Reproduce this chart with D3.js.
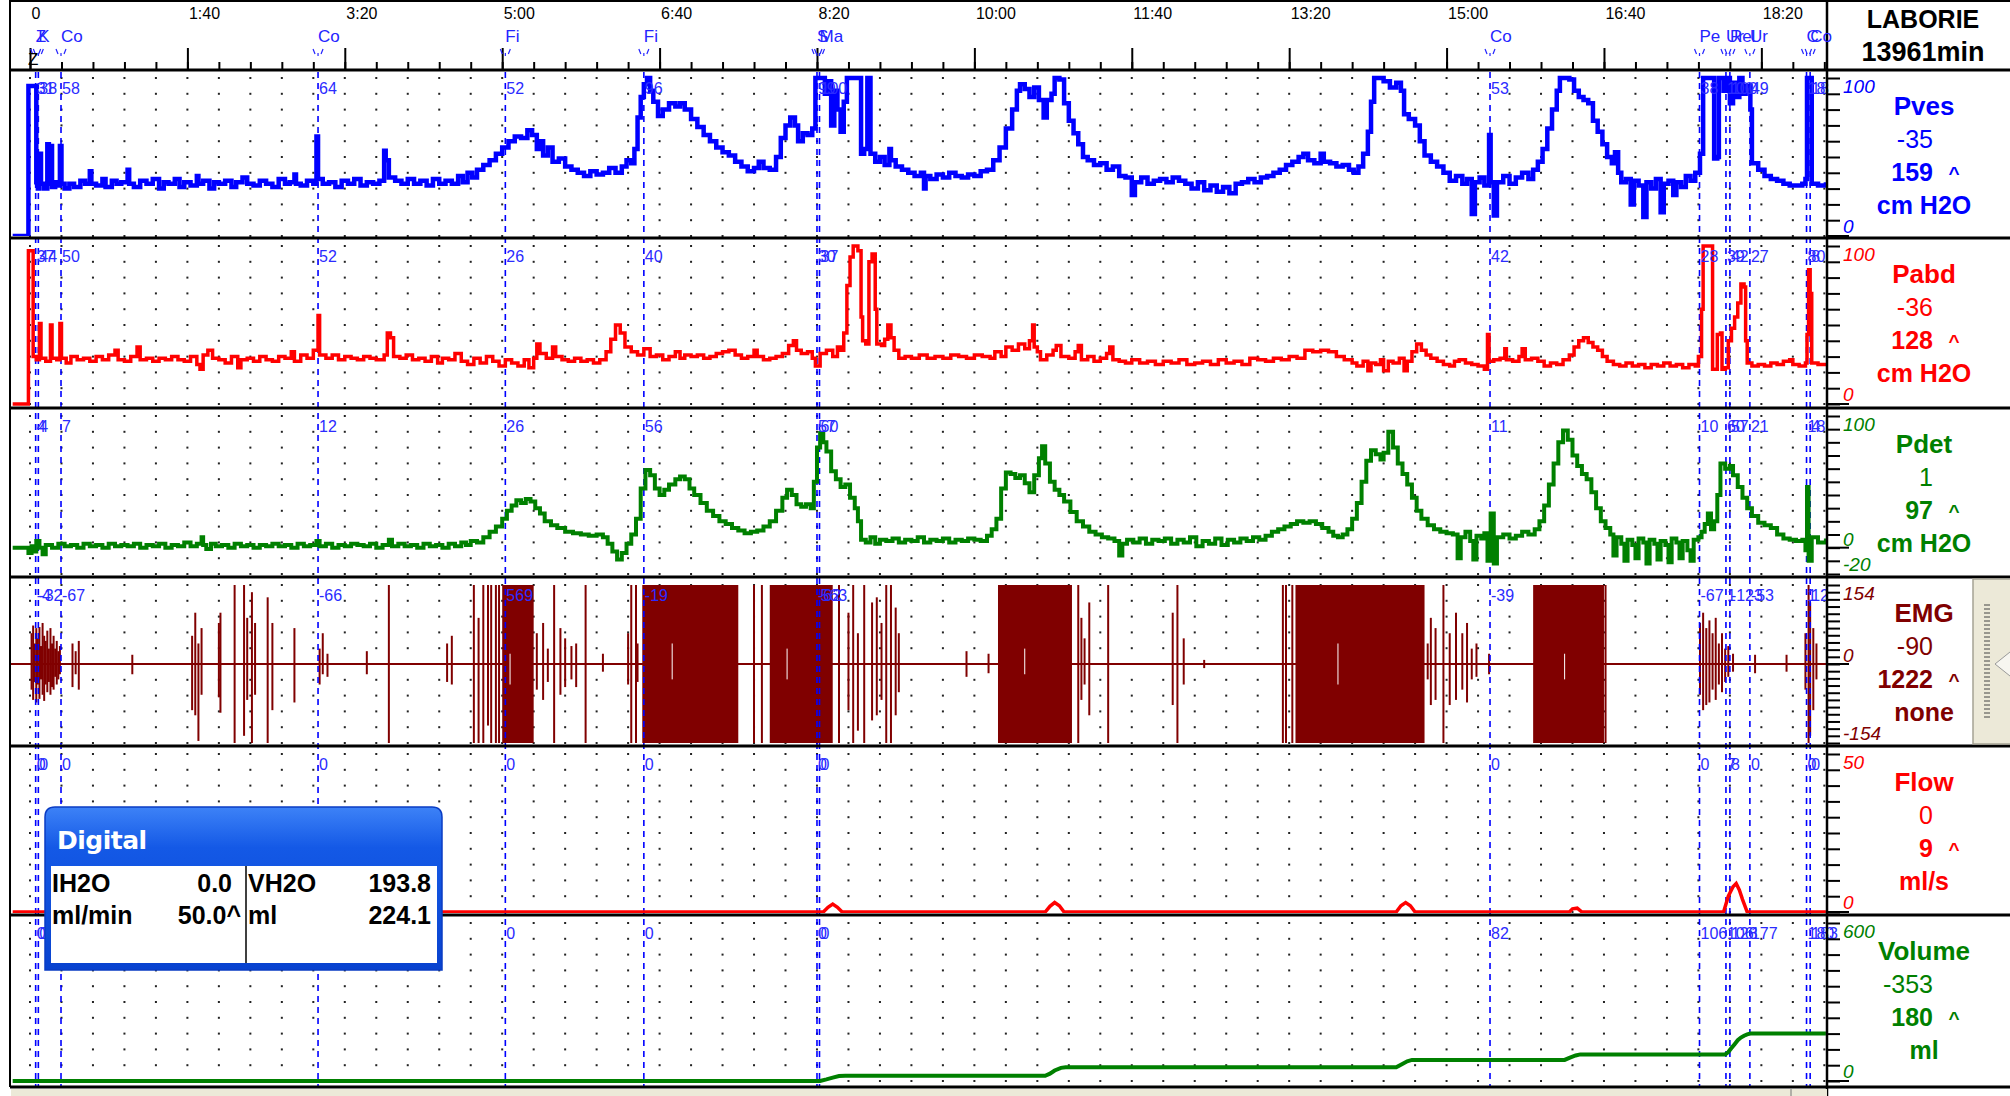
<!DOCTYPE html>
<html>
<head>
<meta charset="utf-8">
<script src="https://cdn.jsdelivr.net/npm/d3@7"></script>
<style>
  body { margin: 0; background: #ffffff; }
  svg { display: block; font-family: "Liberation Sans", Arial, sans-serif; }
</style>
</head>
<body>
<svg id="uro-chart" width="2010" height="1096"></svg>
<script>
// time axis (seconds) and its labels, written as m:ss like the laborie screen
const time_tick_values = [0, 100, 200, 300, 400, 500, 600, 700, 800, 900, 1000, 1100];
const time_tick_labels = ["0", "1:40", "3:20", "5:00", "6:40", "8:20", "10:00", "11:40", "13:20", "15:00", "16:40", "18:20"];

// event markers, their short names and the value of each channel at the marker
const event_times = [3.6, 5.3, 19.7, 183, 302, 390, 500, 501.6, 927.6, 1060.7, 1077.5, 1080, 1092.7, 1128.7, 1131];
const event_names = ["Z", "K", "Co", "Co", "Fi", "Fi", "S", "Ma", "Co", "Pe", "Ur", "Rel", "Ur", "C", "Co"];
const pves_event_values = ["31", "38", "58", "64", "52", "96", "99", "100", "53", "38", "100", "100", "49", "18", "18"];
const pabd_event_values = ["37", "44", "50", "52", "26", "40", "30", "37", "42", "28", "39", "42", "27", "80", "8"];
const pdet_event_values = ["4", "4", "7", "12", "26", "56", "57", "60", "11", "10", "60", "57", "21", "18", "4"];
const emg_event_values = ["-4", "-32", "-67", "-66", "569", "-19", "-62", "563", "-39", "-67", "1", "-123", "-53", "1", "12"];
const flow_event_values = ["0", "0", "0", "0", "0", "0", "0", "0", "0", "0", "7", "8", "0", "0", "0"];
const volume_event_values = ["0", "0", "0", "0", "0", "0", "0", "0", "82", "106", "106", "128", "177", "180", "183"];

// channel info shown in the right column
const channel_names = ["Pves", "Pabd", "Pdet", "EMG", "Flow", "Volume"];
const channel_values = ["-35", "-36", "1", "-90", "0", "-353"];
const channel_max = ["159", "128", "97", "1222", "9", "180"];
const channel_units = ["cm H2O", "cm H2O", "cm H2O", "none", "ml/s", "ml"];
const channel_domains = [[0, 100], [0, 100], [-20, 100], [-154, 154], [0, 50], [0, 600]];
const channel_tick_count = [10, 10, 12, 22, 10, 10];

// pressure traces [seconds, cm H2O]
const pves_data = [[-11,0],[-1,0],[-1,95],[4,95],[4,34],[5,30],[6,52],[7,33],[9,30],[11,58],[12,33],[13,57],[14,31],[16,34],[18,32],[19,57],[20,33],[22,30],[25,33],[28,31],[32,35],[35,33],[38,41],[39,33],[42,32],[46,36],[48,31],[52,35],[55,33],[58,34],[62,42],[63,33],[66,31],[70,35],[74,33],[78,36],[82,30],[85,34],[88,33],[92,36],[95,31],[98,34],[102,32],[106,38],[107,33],[110,35],[114,30],[117,34],[120,33],[124,35],[128,31],[131,34],[135,37],[138,33],[142,32],[146,35],[150,33],[154,31],[158,36],[162,33],[165,34],[168,39],[169,33],[172,32],[176,35],[180,33],[182,63],[183,36],[186,33],[190,34],[194,31],[198,35],[202,33],[206,36],[210,32],[214,34],[218,33],[222,35],[225,54],[226,48],[228,37],[232,35],[236,33],[240,36],[244,33],[248,35],[252,32],[256,36],[260,33],[264,35],[268,33],[272,38],[275,34],[278,40],[281,37],[284,42],[288,45],[292,48],[296,52],[300,56],[304,60],[308,63],[312,62],[316,67],[319,64],[322,55],[324,60],[326,51],[329,56],[332,47],[336,49],[340,44],[344,42],[348,40],[352,38],[356,41],[360,39],[364,40],[368,43],[372,40],[376,44],[379,48],[382,46],[384,55],[386,75],[388,88],[390,96],[392,100],[394,92],[396,85],[399,76],[402,80],[406,84],[410,82],[413,84],[416,80],[420,74],[424,69],[428,64],[432,60],[436,56],[440,53],[444,51],[448,47],[452,44],[456,41],[460,43],[463,47],[466,43],[470,42],[474,50],[477,62],[480,70],[483,75],[486,70],[488,60],[491,65],[494,64],[497,68],[499,100],[503,100],[505,90],[507,98],[509,70],[511,92],[513,80],[515,66],[517,85],[519,100],[527,100],[528,52],[530,55],[532,100],[534,52],[537,47],[540,50],[543,45],[546,55],[547,48],[550,44],[554,42],[558,40],[562,38],[566,40],[568,30],[569,38],[572,36],[576,39],[580,37],[584,40],[588,38],[592,37],[596,39],[600,38],[604,41],[608,42],[612,48],[616,56],[620,68],[624,80],[627,92],[629,96],[632,93],[635,88],[638,94],[641,86],[644,75],[646,86],[649,90],[651,100],[654,99],[657,84],[660,73],[663,65],[666,58],[669,50],[672,48],[676,45],[680,46],[684,42],[688,44],[692,38],[696,37],[700,26],[702,34],[706,37],[710,33],[714,35],[718,36],[722,34],[726,37],[730,35],[734,33],[738,30],[742,34],[746,29],[750,32],[754,28],[758,31],[762,27],[766,33],[770,34],[774,36],[778,34],[782,37],[786,38],[790,40],[794,42],[798,45],[802,47],[806,50],[809,52],[812,48],[816,46],[820,52],[822,47],[826,46],[830,44],[834,45],[838,42],[841,40],[844,44],[847,52],[850,66],[852,85],[854,100],[860,98],[864,94],[868,97],[871,92],[873,77],[876,74],[880,70],[883,60],[886,51],[890,47],[894,44],[898,40],[902,35],[906,38],[910,33],[913,36],[916,14],[918,34],[921,37],[924,32],[927,64],[928,34],[930,13],[932,34],[936,38],[940,33],[944,37],[948,40],[952,36],[955,42],[958,47],[961,55],[964,68],[967,80],[970,92],[972,100],[978,99],[981,92],[984,88],[987,86],[990,84],[993,73],[996,66],[999,58],[1002,50],[1005,46],[1007,53],[1009,40],[1011,34],[1014,36],[1017,20],[1019,35],[1022,32],[1025,12],[1027,34],[1030,30],[1033,36],[1036,15],[1038,33],[1041,35],[1044,26],[1046,34],[1049,31],[1052,38],[1055,35],[1058,40],[1061,52],[1063,100],[1068,100],[1070,49],[1072,50],[1073,100],[1076,92],[1078,100],[1080,84],[1082,97],[1084,88],[1086,100],[1088,90],[1090,95],[1093,80],[1094,46],[1098,42],[1102,38],[1106,36],[1110,35],[1114,33],[1118,32],[1122,32],[1126,33],[1128,36],[1129,100],[1131,100],[1132,33],[1136,32],[1141,34]];

const pabd_data = [[-11,0],[-1,0],[-1,97],[2,97],[2,30],[4,28],[6,51],[7,29],[10,27],[13,50],[14,29],[17,28],[19,51],[20,29],[23,26],[26,30],[30,28],[34,29],[38,27],[42,30],[46,28],[50,31],[54,34],[56,28],[60,27],[64,30],[68,36],[70,28],[74,29],[78,27],[82,29],[86,28],[90,30],[94,28],[98,27],[102,30],[106,25],[108,22],[110,31],[113,34],[116,29],[120,28],[124,26],[128,30],[132,23],[134,28],[138,29],[142,27],[146,30],[150,28],[154,27],[158,30],[162,29],[166,33],[168,27],[172,31],[176,29],[180,34],[183,56],[184,31],[188,29],[192,31],[196,28],[200,30],[204,29],[208,28],[212,30],[216,29],[220,28],[225,31],[227,45],[229,42],[231,30],[235,29],[239,31],[243,28],[247,29],[251,27],[255,30],[259,26],[262,29],[266,28],[270,32],[274,27],[278,25],[282,29],[286,26],[290,30],[294,27],[298,24],[302,28],[306,26],[310,24],[314,28],[317,23],[320,29],[322,38],[324,32],[328,29],[332,36],[334,30],[338,28],[342,27],[346,29],[350,27],[354,28],[358,26],[362,28],[366,33],[369,41],[372,50],[375,45],[378,36],[382,33],[386,31],[390,35],[394,30],[398,31],[402,28],[406,30],[410,33],[413,29],[416,31],[420,30],[424,31],[428,29],[432,30],[436,32],[440,33],[444,34],[448,31],[452,29],[456,30],[460,34],[462,30],[466,28],[470,29],[474,30],[478,32],[482,37],[485,40],[487,34],[490,32],[494,33],[497,29],[499,24],[502,32],[506,34],[510,30],[513,36],[515,34],[517,45],[519,75],[521,93],[523,100],[526,97],[528,55],[529,40],[531,38],[533,90],[535,95],[537,60],[538,38],[541,37],[543,41],[545,50],[547,42],[549,34],[552,29],[556,30],[560,29],[565,31],[570,29],[575,30],[580,29],[585,31],[590,30],[595,29],[600,31],[605,30],[610,29],[613,33],[617,30],[620,36],[624,34],[628,38],[632,35],[635,40],[637,50],[638,36],[640,33],[642,28],[646,31],[650,34],[652,37],[655,30],[660,29],[664,33],[666,37],[668,28],[672,30],[676,27],[680,29],[684,32],[686,36],[688,28],[692,27],[696,26],[700,28],[705,26],[710,27],[715,25],[720,27],[725,26],[730,28],[735,25],[740,26],[745,27],[750,25],[755,28],[760,26],[765,27],[770,25],[775,29],[780,28],[785,27],[790,29],[795,28],[800,30],[805,29],[810,34],[815,33],[820,34],[825,33],[830,30],[835,28],[840,26],[843,24],[847,27],[850,21],[852,26],[855,25],[858,28],[860,21],[863,27],[866,26],[870,29],[873,21],[875,27],[878,33],[881,38],[884,34],[887,31],[890,29],[894,27],[898,25],[902,24],[905,27],[908,28],[912,26],[916,25],[920,24],[924,22],[926,44],[927,27],[930,28],[934,29],[937,35],[938,28],[942,27],[946,30],[948,35],[950,28],[954,29],[958,27],[962,24],[966,26],[970,25],[974,28],[978,31],[981,36],[984,40],[987,42],[990,39],[993,36],[996,34],[999,30],[1002,27],[1006,25],[1010,24],[1014,26],[1018,24],[1022,25],[1026,23],[1030,25],[1034,24],[1038,26],[1042,24],[1046,25],[1050,23],[1054,25],[1058,24],[1060,30],[1062,60],[1063,100],[1068,100],[1069,22],[1071,22],[1072,44],[1074,45],[1075,22],[1077,23],[1079,40],[1081,48],[1083,55],[1085,64],[1087,76],[1089,74],[1090,40],[1091,26],[1094,24],[1098,25],[1102,24],[1106,26],[1110,25],[1114,27],[1118,28],[1120,25],[1124,24],[1128,26],[1129,44],[1130,85],[1131,70],[1132,26],[1136,25],[1141,26]];

const pdet_data = [[-11,0],[-3,0],[-1,-4],[1,1],[3,-3],[4,5],[6,0],[8,-5],[10,2],[14,0],[18,3],[22,1],[26,2],[30,0],[34,3],[38,1],[42,2],[46,0],[50,3],[54,1],[58,2],[62,1],[66,3],[70,0],[74,2],[78,1],[82,3],[86,0],[90,2],[94,1],[98,4],[102,1],[106,3],[109,8],[110,2],[112,-1],[115,3],[118,1],[122,2],[126,0],[130,3],[134,1],[138,2],[142,0],[146,2],[150,1],[154,3],[158,1],[162,2],[166,0],[170,3],[174,1],[178,2],[182,5],[184,1],[188,3],[192,0],[196,2],[200,1],[204,3],[208,2],[212,1],[216,3],[220,0],[224,2],[228,6],[230,1],[234,3],[238,1],[242,2],[246,0],[250,3],[254,1],[258,2],[262,0],[266,3],[270,1],[274,4],[277,2],[280,5],[284,4],[288,8],[292,12],[296,16],[300,22],[303,28],[306,32],[309,36],[312,34],[315,37],[318,35],[321,30],[324,26],[327,20],[331,17],[335,15],[340,12],[345,11],[350,10],[355,9],[360,10],[364,8],[367,3],[370,-3],[373,-9],[376,-4],[379,3],[382,10],[385,22],[388,45],[391,59],[394,55],[397,45],[400,40],[403,44],[406,48],[410,52],[413,54],[416,52],[419,45],[422,40],[426,34],[430,28],[434,24],[438,20],[442,18],[446,15],[450,13],[454,11],[458,12],[462,13],[466,16],[470,20],[474,28],[478,38],[481,44],[484,40],[487,33],[490,31],[493,33],[496,30],[498,50],[500,76],[502,87],[504,80],[506,73],[509,58],[512,52],[515,46],[518,48],[521,38],[524,30],[526,20],[528,6],[531,4],[534,8],[537,3],[540,6],[544,5],[548,7],[552,4],[556,6],[560,5],[564,8],[568,4],[572,6],[576,5],[580,7],[584,4],[588,6],[592,5],[596,7],[600,6],[604,5],[608,9],[611,14],[614,22],[617,45],[620,57],[623,56],[626,53],[629,55],[632,49],[635,42],[638,55],[641,68],[643,77],[645,64],[648,50],[651,44],[654,40],[657,35],[661,27],[665,20],[669,16],[673,12],[677,10],[681,8],[685,7],[689,5],[692,-6],[694,3],[697,6],[701,4],[705,7],[709,3],[713,6],[717,5],[721,7],[725,3],[729,6],[733,4],[737,8],[741,1],[745,5],[749,3],[753,7],[757,2],[761,6],[765,4],[769,7],[773,5],[777,8],[781,6],[785,9],[789,12],[793,14],[797,16],[801,18],[805,20],[809,19],[813,20],[817,18],[821,15],[825,12],[828,9],[831,8],[834,10],[837,14],[840,22],[843,34],[846,50],[849,66],[852,74],[855,71],[858,67],[860,72],[863,88],[866,76],[869,64],[872,56],[875,48],[878,38],[881,28],[884,22],[888,17],[892,14],[896,12],[900,11],[904,10],[907,-8],[909,8],[912,12],[915,5],[917,-9],[919,9],[922,7],[924,11],[926,-10],[928,26],[930,-12],[932,8],[936,10],[940,7],[944,9],[948,12],[952,10],[956,14],[959,20],[962,32],[965,48],[968,64],[971,80],[974,89],[977,82],[980,70],[983,62],[986,56],[989,52],[992,42],[995,30],[998,20],[1001,15],[1004,10],[1006,-6],[1008,8],[1011,3],[1013,-10],[1015,6],[1018,2],[1020,-8],[1022,7],[1025,4],[1027,-12],[1029,6],[1032,3],[1034,-9],[1036,5],[1039,2],[1041,-11],[1043,7],[1046,4],[1048,-8],[1050,5],[1053,-2],[1055,-10],[1057,6],[1060,8],[1062,12],[1064,18],[1066,26],[1068,14],[1070,20],[1072,40],[1074,64],[1077,60],[1080,62],[1082,55],[1085,46],[1088,38],[1091,30],[1094,24],[1098,19],[1102,17],[1106,15],[1110,10],[1114,7],[1118,6],[1122,5],[1126,6],[1128,-2],[1129,46],[1130,-10],[1132,8],[1136,4],[1141,7]];

// emg: dense bursts [start, end], single spikes [t, top, bottom], white gaps inside bursts
const emg_blocks = [[300, 320], [389, 450], [470, 510], [615, 662], [804, 886], [955, 1000]];
const emg_gaps = [[305, 20, -40], [408, 40, -30], [481, 30, -30], [632, 30, -20], [831, 40, -40], [975, 20, -30]];
const emg_spikes = [[1,60,-50],[2,75,-70],[3,40,-35],[4,70,-75],[5,50,-40],[6,72,-68],[7,35,-30],[8,80,-60],[9,55,-72],[10,45,-40],[11,65,-55],[12,30,-35],[13,70,-60],[14,40,-45],[15,55,-50],[16,30,-25],[17,45,-40],[18,25,-30],[19,35,-20],[27,40,-45],[29,25,-20],[31,45,-50],[65,18,-20],[103,55,-90],[105,100,-100],[107,40,-150],[109,70,-60],[120,80,-65],[121,100,-95],[130,154,-154],[136,154,-140],[138,90,-70],[141,140,-154],[143,80,-60],[151,130,-154],[154,80,-90],[168,70,-75],[184,30,-40],[186,60,-20],[189,20,-25],[214,25,-20],[228,154,-154],[265,40,-35],[268,55,-40],[282,154,-154],[285,90,-154],[288,154,-154],[291,154,-120],[293,154,-154],[296,154,-154],[298,154,-154],[322,60,-50],[326,80,-70],[329,30,-35],[333,154,-154],[337,70,-60],[340,50,-45],[344,35,-30],[347,40,-45],[353,154,-154],[364,20,-15],[380,60,-40],[382,154,-154],[385,154,-154],[386,40,-35],[460,154,-154],[465,154,-154],[514,154,-154],[520,100,-90],[523,154,-154],[526,60,-130],[530,154,-154],[535,120,-110],[538,130,-100],[541,80,-70],[544,154,-154],[547,154,-154],[550,110,-100],[552,60,-55],[595,25,-25],[609,20,-18],[666,154,-154],[668,90,-70],[670,50,-40],[673,120,-100],[685,154,-154],[726,100,-80],[729,154,-154],[733,50,-40],[746,8,-8],[796,154,-154],[798,154,-154],[802,154,-154],[888,40,-30],[890,90,-80],[893,70,-70],[898,154,-154],[902,60,-80],[906,100,-70],[910,60,-50],[913,80,-75],[916,30,-30],[919,40,-25],[927,20,-20],[1001,154,-154],[1061,80,-60],[1063,100,-90],[1065,70,-80],[1067,85,-75],[1069,60,-50],[1071,90,-70],[1073,40,-40],[1075,60,-55],[1077,30,-35],[1079,35,-25],[1082,20,-15],[1096,18,-18],[1116,18,-15],[1128,60,-50],[1130,154,-154],[1131,120,-140],[1133,70,-90],[1135,40,-30]];

// flow [seconds, ml/s] and volume [seconds, ml]
const flow_data = [[-11,0],[504,0],[507,1.5],[510,2.5],[513,1.5],[516,0],[645,0],[648,1.8],[651,3],[654,2],[657,0],[868,0],[871,2],[874,3],[877,2],[880,0],[978,0],[980,1],[983,1.2],[986,0],[1076,0],[1079,5],[1082,8],[1084,9],[1086,7],[1088,4],[1091,0],[1141,0]];
const volume_data = [[-11,0],[502,0],[506,6],[510,13],[514,19],[518,20],[645,20],[648,28],[651,40],[655,50],[658,52],[868,52],[871,62],[875,75],[878,80],[975,80],[978,88],[982,97],[985,101],[1077,101],[1079,110],[1081,125],[1083,140],[1085,155],[1087,165],[1089,172],[1091,177],[1093,180],[1141,180]];

// the "Digital" readout window
const digital_rows = [["IH2O", "0.0", "VH2O", "193.8"], ["ml/min", "50.0^", "ml", "224.1"]];

// colours
const blue = "#0000ff";
const red = "#ff0000";
const green = "#008000";
const maroon = "#800000";
const channel_colors = [blue, red, green, maroon, red, green];

const svg = d3.select("#uro-chart");

// layout of the screen
const plot_left = 11;
const plot_right = 1827;
const panel_tops = [70, 238, 408, 577, 746, 915];
const panel_bottom = 1087;

const xScale = d3.scaleLinear()
    .domain([0, 1141.7])
    .range([30, plot_right]);

function panelBottom(i) {
    return i < panel_tops.length - 1 ? panel_tops[i + 1] : panel_bottom;
}

function panelScale(i) {
    return d3.scaleLinear()
        .domain(channel_domains[i])
        .range([panel_tops[i] + 166, panel_tops[i] + 8]);
}

// background
svg.append("rect").attr("width", 2010).attr("height", 1096).attr("fill", "#ffffff");

// clip paths so traces stay inside their panel
const defs = svg.append("defs");
panel_tops.forEach(function(top, i) {
    defs.append("clipPath").attr("id", "clip-" + i)
        .append("rect")
        .attr("x", plot_left)
        .attr("y", top + 2)
        .attr("width", plot_right - plot_left - 1)
        .attr("height", panelBottom(i) - top - 4);
});

// gradient for the digital window title
const grad = defs.append("linearGradient").attr("id", "title-grad")
    .attr("x1", 0).attr("y1", 0).attr("x2", 0).attr("y2", 1);
grad.append("stop").attr("offset", "0%").attr("stop-color", "#3d82f7");
grad.append("stop").attr("offset", "25%").attr("stop-color", "#1459e6");
grad.append("stop").attr("offset", "100%").attr("stop-color", "#0842cf");

// dotted grid, one column every 20 s and ten rows per panel
const grid_times = d3.range(0, 1141, 20);
panel_tops.forEach(function(top, i) {
    const g = svg.append("g");
    grid_times.forEach(function(t) {
        d3.range(0, 11).forEach(function(j) {
            g.append("rect")
                .attr("x", xScale(t) - 1)
                .attr("y", top + 8 + j * 15.8 - 1)
                .attr("width", 2)
                .attr("height", 2)
                .attr("fill", "#222");
        });
    });
});

// emg zero line and bursts
const emgY = panelScale(3);
const emg_g = svg.append("g").attr("clip-path", "url(#clip-3)");
emg_g.append("line")
    .attr("x1", plot_left).attr("x2", plot_right)
    .attr("y1", emgY(0)).attr("y2", emgY(0))
    .attr("stroke", maroon).attr("stroke-width", 2);
emg_g.selectAll(".emg-block").data(emg_blocks).join("rect")
    .attr("x", d => xScale(d[0]))
    .attr("width", d => xScale(d[1]) - xScale(d[0]))
    .attr("y", emgY(154))
    .attr("height", emgY(-154) - emgY(154))
    .attr("fill", maroon);
emg_g.selectAll(".emg-gap").data(emg_gaps).join("line")
    .attr("x1", d => xScale(d[0])).attr("x2", d => xScale(d[0]))
    .attr("y1", d => emgY(d[1])).attr("y2", d => emgY(d[2]))
    .attr("stroke", "#ffffff").attr("stroke-width", 1);
emg_g.selectAll(".emg-spike").data(emg_spikes).join("line")
    .attr("x1", d => xScale(d[0])).attr("x2", d => xScale(d[0]))
    .attr("y1", d => emgY(d[1])).attr("y2", d => emgY(d[2]))
    .attr("stroke", maroon).attr("stroke-width", 2);

// event marker lines through every panel
svg.append("g").selectAll("line").data(event_times).join("line")
    .attr("x1", d => xScale(d)).attr("x2", d => xScale(d))
    .attr("y1", 72).attr("y2", panel_bottom)
    .attr("stroke", blue)
    .attr("stroke-width", 1.6)
    .attr("stroke-dasharray", "6,5");

// the line traces, drawn as steps like the recorder does
const traces = [[0, pves_data, 4.5], [1, pabd_data, 3.5], [2, pdet_data, 4], [4, flow_data, 3.5], [5, volume_data, 4]];
traces.forEach(function(tr) {
    const i = tr[0];
    const yScale = panelScale(i);
    const line_generator = d3.line()
        .curve(i < 3 ? d3.curveStepAfter : d3.curveLinear)
        .x(d => xScale(d[0]))
        .y(d => yScale(d[1]));
    svg.append("path")
        .attr("clip-path", "url(#clip-" + i + ")")
        .attr("d", line_generator(tr[1]))
        .attr("fill", "none")
        .attr("stroke", channel_colors[i])
        .attr("stroke-width", tr[2])
        .attr("stroke-linejoin", "miter");
});

// event values on top of every panel
const all_event_values = [pves_event_values, pabd_event_values, pdet_event_values, emg_event_values, flow_event_values, volume_event_values];
all_event_values.forEach(function(vals, i) {
    svg.append("g").selectAll("text").data(vals).join("text")
        .attr("x", (d, k) => xScale(event_times[k]) + 1)
        .attr("y", panel_tops[i] + 24)
        .attr("font-size", 16)
        .attr("fill", "#2b2bff")
        .text(d => d);
});

// panel separators, frame and the right divider
const sep_ys = panel_tops.concat([panel_bottom]);
svg.append("g").selectAll("line").data(sep_ys).join("line")
    .attr("x1", plot_left - 1).attr("x2", 2010)
    .attr("y1", d => d).attr("y2", d => d)
    .attr("stroke", "#000").attr("stroke-width", 3);
svg.append("line").attr("x1", 10).attr("x2", 10).attr("y1", 0).attr("y2", panel_bottom)
    .attr("stroke", "#000").attr("stroke-width", 2);
svg.append("line").attr("x1", 10).attr("x2", 2010).attr("y1", 1).attr("y2", 1)
    .attr("stroke", "#000").attr("stroke-width", 2);
svg.append("line").attr("x1", plot_right).attr("x2", plot_right).attr("y1", 0).attr("y2", 1096)
    .attr("stroke", "#000").attr("stroke-width", 2.5);

// time axis at the top
const majorAxis = d3.axisTop(xScale)
    .tickValues(time_tick_values)
    .tickFormat((d, i) => time_tick_labels[i])
    .tickSize(22);
const minorAxis = d3.axisTop(xScale)
    .tickValues(d3.range(0, 1141, 20))
    .tickFormat("")
    .tickSize(8);
const minor_g = svg.append("g").attr("transform", "translate(0,70)").call(minorAxis);
minor_g.select(".domain").remove();
minor_g.selectAll("line").attr("stroke-width", 2);
const major_g = svg.append("g").attr("transform", "translate(0,70)").call(majorAxis);
major_g.select(".domain").remove();
major_g.selectAll("line").attr("stroke-width", 2);
major_g.attr("font-size", 16).attr("font-family", "Liberation Sans, Arial, sans-serif");
major_g.selectAll("text")
    .attr("y", -51)
    .attr("dy", 0)
    .attr("x", 1)
    .attr("fill", "#000")
    .style("text-anchor", "start");

// event names and their little markers in the axis area
svg.append("g").selectAll("text").data(event_names).join("text")
    .attr("x", (d, k) => xScale(event_times[k]))
    .attr("y", 42)
    .attr("font-size", 17)
    .attr("fill", "#2424ff")
    .text(d => d);
svg.append("g").selectAll("path").data(event_times).join("path")
    .attr("d", d => {
        const x = xScale(d);
        return `M${x - 5},49 L${x - 3},54 M${x + 5},49 L${x + 3},54 M${x},53 L${x},56`;
    })
    .attr("stroke", "#2424ff").attr("stroke-width", 1.2).attr("fill", "none");
svg.append("text").attr("x", 28).attr("y", 65).attr("font-size", 17).attr("fill", "#000").text("Z");

// right column: axis ticks, limits and channel readouts
panel_tops.forEach(function(top, i) {
    const yScale = panelScale(i);
    const dom = channel_domains[i];
    const step = (dom[1] - dom[0]) / channel_tick_count[i];
    const rightAxis = d3.axisRight(yScale)
        .tickValues(d3.range(0, channel_tick_count[i] + 1).map(k => dom[0] + k * step))
        .tickFormat("")
        .tickSize(13);
    const ag = svg.append("g").attr("transform", `translate(${plot_right},0)`).call(rightAxis);
    ag.select(".domain").remove();
    ag.selectAll("line").attr("stroke-width", 2);

    const color = channel_colors[i];
    // longer tick at zero
    if (dom[0] <= 0 && dom[1] >= 0) {
        svg.append("line")
            .attr("x1", plot_right).attr("x2", plot_right + 22)
            .attr("y1", yScale(0)).attr("y2", yScale(0))
            .attr("stroke", "#000").attr("stroke-width", 2);
    }
    const limit_labels = [[dom[1], top + 23]];
    limit_labels.push([dom[0], yScale(dom[0]) - 3]);
    if (dom[0] < 0) limit_labels.push([0, yScale(0) - 2]);
    limit_labels.forEach(function(l) {
        svg.append("text")
            .attr("x", 1843).attr("y", l[1])
            .attr("font-size", 19)
            .attr("font-style", "italic")
            .attr("fill", color)
            .text(l[0]);
    });

    svg.append("text").attr("x", 1924).attr("y", top + 45)
        .attr("text-anchor", "middle").attr("font-size", 26).attr("font-weight", "bold")
        .attr("fill", color).text(channel_names[i]);
    svg.append("text").attr("x", 1933).attr("y", top + 78)
        .attr("text-anchor", "end").attr("font-size", 25)
        .attr("fill", color).text(channel_values[i]);
    svg.append("text").attr("x", 1933).attr("y", top + 111)
        .attr("text-anchor", "end").attr("font-size", 25).attr("font-weight", "bold")
        .attr("fill", color).text(channel_max[i]);
    svg.append("text").attr("x", 1954).attr("y", top + 110)
        .attr("text-anchor", "middle").attr("font-size", 19).attr("font-weight", "bold")
        .attr("fill", color).text("^");
    svg.append("text").attr("x", 1924).attr("y", top + 144)
        .attr("text-anchor", "middle").attr("font-size", 25).attr("font-weight", "bold")
        .attr("fill", color).text(channel_units[i]);
});

// header top right
svg.append("text").attr("x", 1923).attr("y", 28).attr("text-anchor", "middle")
    .attr("font-size", 25).attr("font-weight", "bold").text("LABORIE");
svg.append("text").attr("x", 1923).attr("y", 61).attr("text-anchor", "middle")
    .attr("font-size", 27).attr("font-weight", "bold").text("13961min");

// little slider next to the emg readout
const slider = svg.append("g");
slider.append("rect").attr("x", 1973).attr("y", 579).attr("width", 40).attr("height", 165)
    .attr("fill", "#ece9d8").attr("stroke", "#a5a294").attr("stroke-width", 1.5);
slider.selectAll("line").data(d3.range(605, 718, 4)).join("line")
    .attr("x1", 1984).attr("x2", 1990)
    .attr("y1", d => d).attr("y2", d => d)
    .attr("stroke", "#444").attr("stroke-width", 1);
slider.append("path").attr("d", "M2010,652 L1995,664 L2010,676")
    .attr("fill", "#f7f6f0").attr("stroke", "#999").attr("stroke-width", 1);

// scrollbar strip at the bottom
svg.append("rect").attr("x", 11).attr("y", 1089).attr("width", plot_right - 11).attr("height", 7)
    .attr("fill", "#ece9d8");
svg.append("line").attr("x1", 1791).attr("x2", 1791).attr("y1", 1089).attr("y2", 1096)
    .attr("stroke", "#777").attr("stroke-width", 1);

// digital readout window
const dig = svg.append("g");
dig.append("path")
    .attr("d", "M45,970 L45,817 Q45,807 55,807 L432,807 Q442,807 442,817 L442,970 Z")
    .attr("fill", "url(#title-grad)")
    .attr("stroke", "#0a3cc4").attr("stroke-width", 1.5);
dig.append("rect").attr("x", 51).attr("y", 866).attr("width", 386).attr("height", 97)
    .attr("fill", "#ffffff");
dig.append("line").attr("x1", 246).attr("x2", 246).attr("y1", 866).attr("y2", 963)
    .attr("stroke", "#000").attr("stroke-width", 1.5);
dig.append("text").attr("x", 57).attr("y", 849)
    .attr("font-size", 25).attr("font-weight", "bold").attr("fill", "#ffffff")
    .attr("font-family", "DejaVu Sans, sans-serif")
    .style("letter-spacing", "-0.5px")
    .text("Digital");
const col_x = [52, 232, 248, 431];
const col_anchor = ["start", "end", "start", "end"];
digital_rows.forEach(function(row, r) {
    row.forEach(function(cell, c) {
        let x = col_x[c];
        if (cell.endsWith("^")) x = x + 9;
        dig.append("text")
            .attr("x", x)
            .attr("y", 892 + r * 32)
            .attr("text-anchor", col_anchor[c])
            .attr("font-size", 25)
            .attr("font-weight", "bold")
            .attr("fill", "#000")
            .text(cell);
    });
});
</script>
</body>
</html>
